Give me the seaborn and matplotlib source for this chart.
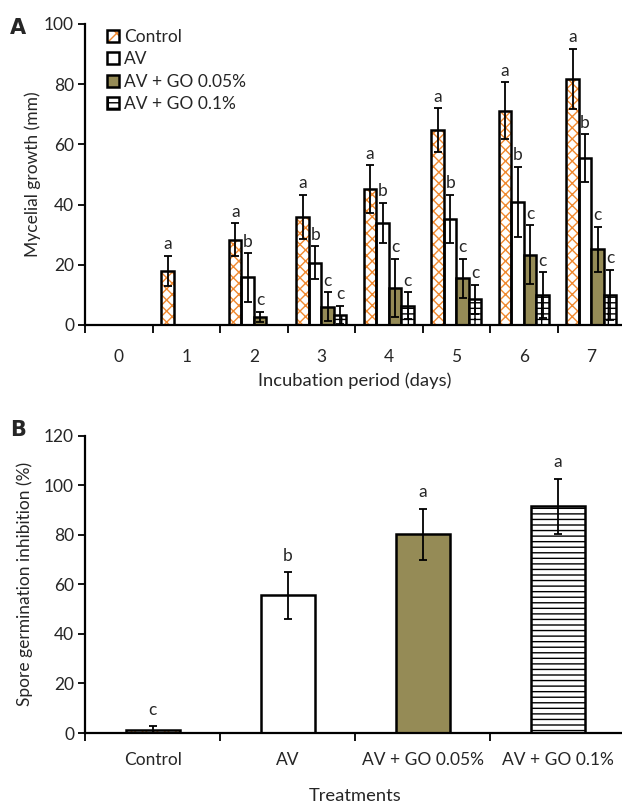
import numpy as np
import pandas as pd
import matplotlib
matplotlib.use("Agg")
import matplotlib.pyplot as plt
from matplotlib.patches import Rectangle, Patch
from matplotlib.container import BarContainer
import seaborn as sns

# ---------------- data ----------------
days = ["0", "1", "2", "3", "4", "5", "6", "7"]
treatments = ["Control", "AV", "AV + GO 0.05%", "AV + GO 0.1%"]

growth_control = [0, 18.0, 28.3, 35.8, 45.1, 64.8, 71.2, 81.8]
growth_av      = [0, 0, 15.8, 20.7, 34.0, 35.3, 40.9, 55.4]
growth_go005   = [0, 0, 2.7, 6.1, 12.2, 15.5, 23.3, 25.1]
growth_go01    = [0, 0, 0, 3.3, 6.4, 8.5, 9.9, 10.0]

err_control = [0, 5.0, 5.5, 7.4, 8.0, 7.2, 9.4, 10.0]
err_av      = [0, 0, 8.0, 5.5, 6.6, 7.9, 11.7, 8.0]
err_go005   = [0, 0, 1.7, 4.8, 9.7, 6.5, 9.8, 7.5]
err_go01    = [0, 0, 0, 3.0, 4.5, 4.8, 7.6, 8.3]

letters_control = ["", "a", "a", "a", "a", "a", "a", "a"]
letters_av      = ["", "", "b", "b", "b", "b", "b", "b"]
letters_go005   = ["", "", "c", "c", "c", "c", "c", "c"]
letters_go01    = ["", "", "", "c", "c", "c", "c", "c"]

spore_inhibition = [1.4, 55.5, 80.2, 91.5]
spore_err        = [1.3, 9.4, 10.4, 11.2]
spore_letters    = ["c", "b", "a", "a"]

# ---------------- style ----------------
sns.set_theme(style="ticks")
plt.rcParams["font.family"] = ["Lato", "DejaVu Sans"]
plt.rcParams["hatch.linewidth"] = 1.0

ORANGE = "#F0892F"
OLIVE = "#958B56"
fills = ["white", "white", OLIVE, "white"]
hatches_a = ["xxx", None, None, "---|"]
hatch_colors = [ORANGE, "black", "black", "black"]
hatches_b = ["xxx", None, None, "---"]

FS = 12.5
FS_LAB = 13.2
EDGE_LW = 1.8
CAP = 2.6

fig = plt.figure(figsize=(6.22, 8.08), dpi=100)
axA = fig.add_axes([0.137, 0.5978, 1.005 - 0.137, 0.9703 - 0.5978])
axB = fig.add_axes([0.137, 0.0928, 1.005 - 0.137, 0.4608 - 0.0928])


def style_bars(ax, container_patches, hatch, fill, hcolor):
    for p in container_patches:
        p.set_facecolor(fill)
        if hatch:
            p.set_hatch(hatch)
            p.set_edgecolor(hcolor)
            p.set_linewidth(0)
            ax.add_patch(Rectangle(p.get_xy(), p.get_width(), p.get_height(),
                                   fill=False, edgecolor="black",
                                   linewidth=EDGE_LW, zorder=p.get_zorder() + 0.1))
        else:
            p.set_edgecolor("black")
            p.set_linewidth(EDGE_LW)


def style_axis(ax, ncat):
    for s in ["top", "right"]:
        ax.spines[s].set_visible(False)
    for s in ["left", "bottom"]:
        ax.spines[s].set_linewidth(1.6)
        ax.spines[s].set_color("black")
    ax.set_xlim(-0.5, ncat - 0.5)
    ax.set_xticks(np.arange(-0.5, ncat, 1.0))
    ax.set_xticklabels([])
    ax.tick_params(axis="x", which="major", length=6, width=1.3, color="black",
                   direction="out")
    ax.tick_params(axis="y", which="major", length=5, width=1.3, color="black",
                   direction="out", labelsize=FS, pad=3)
    ax.grid(False)


# ---------------- Panel A ----------------
dfA = pd.DataFrame({
    "Day": days * 4,
    "Growth": growth_control + growth_av + growth_go005 + growth_go01,
    "Treatment": sum([[t] * len(days) for t in treatments], []),
})
sns.barplot(data=dfA, x="Day", y="Growth", hue="Treatment", hue_order=treatments,
            order=days, palette=dict(zip(treatments, fills)), errorbar=None,
            width=0.74, gap=0, ax=axA, legend=False, saturation=1)

errs_a = [err_control, err_av, err_go005, err_go01]
vals_a = [growth_control, growth_av, growth_go005, growth_go01]
lets_a = [letters_control, letters_av, letters_go005, letters_go01]
bar_conts_a = [c for c in axA.containers if isinstance(c, BarContainer)]
for i, cont in enumerate(bar_conts_a):
    style_bars(axA, cont.patches, hatches_a[i], fills[i], hatch_colors[i])
    xs, ys, es = [], [], []
    for j, p in enumerate(cont.patches):
        xc = p.get_x() + p.get_width() / 2
        if vals_a[i][j] > 0:
            xs.append(xc); ys.append(vals_a[i][j]); es.append(errs_a[i][j])
        if lets_a[i][j]:
            axA.text(xc, vals_a[i][j] + errs_a[i][j] + 1.2, lets_a[i][j],
                     ha="center", va="bottom", fontsize=FS)
    axA.errorbar(xs, ys, yerr=es, fmt="none", ecolor="black", elinewidth=1.3,
                 capsize=CAP, capthick=1.3, zorder=5)

style_axis(axA, len(days))
axA.set_ylim(0, 100)
axA.set_yticks(np.arange(0, 101, 20))
axA.set_xticks(np.arange(len(days)), minor=True)
axA.set_xticklabels(days, minor=True)
axA.tick_params(axis="x", which="minor", length=0, labelsize=FS, pad=17)
axA.set_xlabel("Incubation period (days)", fontsize=FS_LAB, labelpad=6)
axA.set_ylabel("Mycelial growth (mm)", fontsize=FS, labelpad=2)

handles = []
for i, t in enumerate(treatments):
    handles.append(Patch(facecolor=fills[i], edgecolor="black", linewidth=EDGE_LW,
                         hatch=hatches_a[i] if i != 0 else None, label=t))
leg = axA.legend(handles=handles, loc="upper left", bbox_to_anchor=(0.027, 1.007),
                 frameon=False, fontsize=FS, handlelength=0.7, handleheight=0.7,
                 handletextpad=0.3, labelspacing=0.37, borderaxespad=0)
lh = leg.legend_handles[0]
lh.set_hatch("xx")
lh._hatch_color = matplotlib.colors.to_rgba(ORANGE)

# ---------------- Panel B ----------------
dfB = pd.DataFrame({"Treatment": treatments, "Inhibition": spore_inhibition})
sns.barplot(data=dfB, x="Treatment", y="Inhibition", hue="Treatment",
            hue_order=treatments, order=treatments,
            palette=dict(zip(treatments, fills)), errorbar=None, width=0.4,
            ax=axB, legend=False, saturation=1)

all_b = [p for c in axB.containers if isinstance(c, BarContainer) for p in c.patches]
for i, p in enumerate(all_b):
    style_bars(axB, [p], hatches_b[i], fills[i], hatch_colors[i])
    xc = p.get_x() + p.get_width() / 2
    axB.errorbar([xc], [spore_inhibition[i]], yerr=[spore_err[i]], fmt="none",
                 ecolor="black", elinewidth=1.3, capsize=CAP, capthick=1.3, zorder=5)
    axB.text(xc, spore_inhibition[i] + spore_err[i] + 3.5, spore_letters[i],
             ha="center", va="bottom", fontsize=FS)

style_axis(axB, len(treatments))
axB.set_ylim(0, 120)
axB.set_yticks(np.arange(0, 121, 20))
axB.set_xticks(np.arange(len(treatments)), minor=True)
axB.set_xticklabels(treatments, minor=True)
axB.tick_params(axis="x", which="minor", length=0, labelsize=FS, pad=14)
axB.set_xlabel("Treatments", fontsize=FS_LAB, labelpad=14)
axB.set_ylabel("Spore germination inhibition (%)", fontsize=FS, labelpad=8)

fig.text(0.016, 0.965, "A", fontsize=15, fontweight="bold", family="DejaVu Sans",
         ha="left", va="center")
fig.text(0.016, 0.468, "B", fontsize=15, fontweight="bold", family="DejaVu Sans",
         ha="left", va="center")

fig.savefig("out.png", dpi=100)
